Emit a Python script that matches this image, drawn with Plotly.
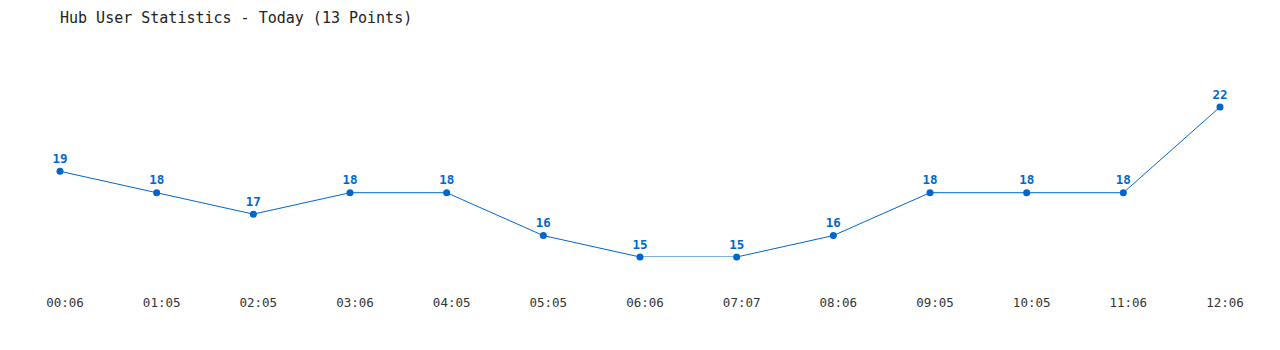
import plotly.graph_objects as go

times = ["00:06", "01:05", "02:05", "03:06", "04:05", "05:05", "06:06",
         "07:07", "08:06", "09:05", "10:05", "11:06", "12:06"]
users = [19, 18, 17, 18, 18, 16, 15, 15, 16, 18, 18, 18, 22]
title_text = "Hub User Statistics - Today (13 Points)"

idx = list(range(len(times)))
blue = "#0066cc"

fig = go.Figure(go.Scatter(
    x=idx, y=users, mode="lines+markers+text",
    text=[str(v) for v in users], textposition="top center",
    textfont=dict(family="DejaVu Sans Mono", size=12.5, color=blue, weight="bold"),
    line=dict(color=blue, width=1),
    marker=dict(color=blue, size=7),
    cliponaxis=False, hoverinfo="skip",
))

fig.update_layout(
    width=1280, height=350,
    margin=dict(l=60, r=60, t=107, b=93),
    paper_bgcolor="white", plot_bgcolor="white",
    showlegend=False,
    title=dict(text=title_text, x=60 / 1280, xanchor="left", y=1 - 18 / 350, yanchor="middle",
               font=dict(family="DejaVu Sans Mono", size=15, color="#222")),
)
fig.update_xaxes(range=[0, 12], tickvals=idx, ticktext=times, showgrid=False, zeroline=False,
                 showline=False, ticks="", ticklabelshift=5, ticklabelstandoff=36,
                 tickfont=dict(family="DejaVu Sans Mono", size=12.5, color="#333"))
fig.update_yaxes(range=[15, 22], visible=False)

fig.write_html("out.html")
